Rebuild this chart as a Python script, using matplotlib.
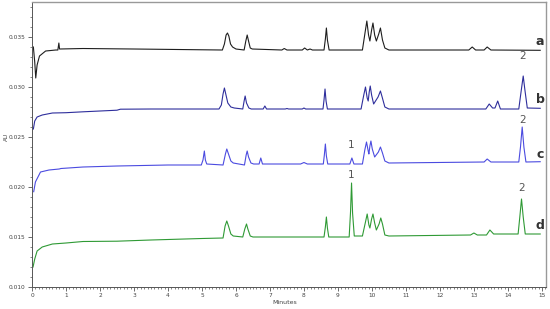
import matplotlib
matplotlib.use('Agg')
import matplotlib.pyplot as plt
from matplotlib.ticker import MultipleLocator, FormatStrFormatter

# chromatogram vertices (minutes, AU)
A_T = [0.04, 0.08, 0.11, 0.15, 0.22, 0.40, 0.70, 0.76, 0.79, 0.81, 1.5, 3.0,
       5.60, 5.66, 5.71, 5.75, 5.79, 5.84, 5.90, 6.00, 6.24, 6.29, 6.33, 6.37, 6.42, 6.48,
       7.35, 7.42, 7.50, 7.95, 8.02, 8.10, 8.18, 8.25,
       8.59, 8.63, 8.66, 8.69, 8.74,
       9.72, 9.80, 9.85, 9.90, 9.94, 9.99, 10.03, 10.08, 10.13, 10.20, 10.25, 10.31, 10.38, 10.50,
       12.85, 12.95, 13.05, 13.30, 13.39, 13.50, 14.95]
A_V = [0.0340, 0.0325, 0.0309, 0.0322, 0.0331, 0.0336, 0.0337, 0.0337, 0.0344, 0.0338, 0.03385, 0.0338,
       0.0337, 0.0343, 0.0352, 0.0354, 0.0351, 0.0343, 0.0340, 0.0338, 0.0337, 0.0346, 0.0352, 0.0346, 0.0339, 0.0338,
       0.0337, 0.03385, 0.0337, 0.0337, 0.0339, 0.0337, 0.0338, 0.0337,
       0.0337, 0.0348, 0.0359, 0.0347, 0.0337,
       0.0337, 0.0355, 0.0366, 0.0352, 0.0346, 0.0357, 0.0364, 0.0352, 0.0346, 0.0353, 0.0359, 0.0347, 0.0339, 0.0337,
       0.0337, 0.0340, 0.0337, 0.0337, 0.0340, 0.0337, 0.03367]

B_T = [0.04, 0.08, 0.15, 0.30, 0.60, 1.0, 1.5, 2.5, 2.6, 3.5, 5.50,
       5.57, 5.62, 5.66, 5.70, 5.76, 5.85, 5.95, 6.20, 6.24, 6.27, 6.31, 6.38, 6.45, 6.80, 6.85, 6.90,
       7.45, 7.50, 7.55, 7.95, 8.00, 8.05,
       8.56, 8.59, 8.62, 8.65, 8.69,
       9.68, 9.76, 9.81, 9.86, 9.89, 9.92, 9.95, 9.99, 10.05, 10.18, 10.25, 10.30, 10.38, 10.50,
       13.35, 13.45, 13.55, 13.62, 13.70, 13.78, 14.32, 14.39, 14.45, 14.50, 14.57, 14.95]
B_V = [0.0258, 0.0266, 0.0270, 0.0272, 0.0274, 0.02743, 0.02752, 0.02768, 0.02778, 0.0278, 0.0278,
       0.0282, 0.0293, 0.0299, 0.0293, 0.0284, 0.0280, 0.0279, 0.0278, 0.0286, 0.0291, 0.0284, 0.0279, 0.0278, 0.0278, 0.0281, 0.0278,
       0.0278, 0.02785, 0.0278, 0.0278, 0.0279, 0.0278,
       0.0278, 0.0287, 0.0298, 0.0286, 0.0278,
       0.0278, 0.0292, 0.0300, 0.0289, 0.0286, 0.0295, 0.0301, 0.0292, 0.0283, 0.0290, 0.0296, 0.0290, 0.0280, 0.0278,
       0.0278, 0.0283, 0.0279, 0.0279, 0.0286, 0.0278, 0.0278, 0.0296, 0.0311, 0.0297, 0.0279, 0.02787]

C_T = [0.05, 0.10, 0.25, 0.50, 0.80, 0.85, 1.5, 2.5, 4.0, 4.98,
       5.03, 5.07, 5.10, 5.14, 5.62, 5.69, 5.73, 5.78, 5.85, 5.92, 6.25, 6.30, 6.33, 6.37, 6.44, 6.52,
       6.68, 6.73, 6.78, 7.90, 8.00, 8.10,
       8.57, 8.60, 8.63, 8.66, 8.70, 9.35, 9.41, 9.47,
       9.72, 9.79, 9.84, 9.89, 9.91, 9.94, 9.97, 10.01, 10.08, 10.19, 10.25, 10.31, 10.38, 10.50,
       13.30, 13.39, 13.50, 14.32, 14.37, 14.42, 14.47, 14.53, 14.95]
C_V = [0.01953, 0.0205, 0.0215, 0.0217, 0.0218, 0.02185, 0.0220, 0.0221, 0.0222, 0.0222,
       0.0227, 0.0236, 0.0227, 0.0223, 0.0222, 0.0233, 0.0238, 0.0233, 0.0226, 0.0224, 0.0222, 0.0232, 0.0236, 0.0230, 0.0224, 0.0223,
       0.0223, 0.0229, 0.0223, 0.0223, 0.02245, 0.0223,
       0.0223, 0.0232, 0.0243, 0.0231, 0.0223, 0.0223, 0.0229, 0.0223,
       0.0223, 0.0237, 0.0245, 0.0236, 0.0233, 0.0241, 0.0246, 0.0238, 0.0230, 0.0235, 0.0240, 0.0234, 0.0226, 0.0224,
       0.0225, 0.0228, 0.0225, 0.0225, 0.0240, 0.0260, 0.0240, 0.0225, 0.02253]

D_T = [0.03, 0.08, 0.15, 0.30, 0.60, 1.0, 1.5, 2.5, 3.5, 5.0, 5.62,
       5.68, 5.73, 5.78, 5.85, 5.92, 6.20, 6.26, 6.31, 6.35, 6.42, 6.50,
       8.59, 8.63, 8.66, 8.69, 8.73, 9.33, 9.37, 9.40, 9.43, 9.48,
       9.72, 9.81, 9.86, 9.91, 9.94, 9.99, 10.03, 10.08, 10.13, 10.21, 10.26, 10.31, 10.38, 10.50,
       12.90, 13.00, 13.10, 13.37, 13.47, 13.58, 14.30, 14.35, 14.40, 14.45, 14.51, 14.95]
D_V = [0.0120, 0.0128, 0.0136, 0.0140, 0.0143, 0.0144, 0.01455, 0.01458, 0.0147, 0.01485, 0.0149,
       0.0161, 0.0166, 0.0161, 0.0153, 0.0151, 0.0150, 0.0158, 0.0163, 0.0158, 0.0151, 0.0150,
       0.0150, 0.0160, 0.0170, 0.0159, 0.0150, 0.0150, 0.0175, 0.0204, 0.0174, 0.0151,
       0.0151, 0.0165, 0.0173, 0.0162, 0.0159, 0.0168, 0.0173, 0.0164, 0.0157, 0.0163, 0.0169, 0.0163, 0.0152, 0.0151,
       0.0152, 0.0154, 0.0152, 0.0152, 0.0157, 0.0153, 0.0153, 0.0170, 0.0188, 0.0170, 0.0153, 0.0153]

TRACES = [
    (A_T, A_V, '#1e1e1e', 'a', 0.0346),
    (B_T, B_V, '#2e2e9c', 'b', 0.0288),
    (C_T, C_V, '#4b4be0', 'c', 0.0233),
    (D_T, D_V, '#2f9a35', 'd', 0.0162),
]

# peak numbers: (minutes, AU, text)
PEAK_LABELS = [
    (14.44, 0.0331, '2'),
    (14.42, 0.0267, '2'),
    (9.38, 0.0242, '1'),
    (9.40, 0.0212, '1'),
    (14.40, 0.0199, '2'),
]

fig = plt.figure(figsize=(5.5, 3.09), dpi=100)
ax = fig.add_axes([0.0582, 0.0712, 0.9345, 0.9223])

for t, v, color, name, ylab in TRACES:
    ax.plot(t, v, '-', color=color, linewidth=0.8)
    ax.text(14.95, ylab, name, ha='center', va='center',
            fontsize=9, fontweight='bold', color='#333333')

for t, v, s in PEAK_LABELS:
    ax.text(t, v, s, ha='center', va='center', fontsize=7.5, color='#555555')

ax.set_xlim(0, 15.12)
ax.set_ylim(0.010, 0.0385)
ax.xaxis.set_major_locator(MultipleLocator(1))
ax.xaxis.set_minor_locator(MultipleLocator(0.1))
ax.yaxis.set_major_locator(MultipleLocator(0.005))
ax.yaxis.set_minor_locator(MultipleLocator(0.001))
ax.yaxis.set_major_formatter(FormatStrFormatter('%.3f'))
ax.tick_params(which='major', length=3, width=0.6, labelsize=4.2,
               labelcolor='#444444', color='#555555', pad=1.5)
ax.tick_params(which='minor', length=1.5, width=0.5, color='#555555')

for side in ['left', 'bottom']:
    ax.spines[side].set_color('#555555')
    ax.spines[side].set_linewidth(0.7)
for side in ['top', 'right']:
    ax.spines[side].set_color('#999999')
    ax.spines[side].set_linewidth(1.0)

fig.text(285 / 550, 1 - 303 / 309, 'Minutes', ha='center', va='center',
         fontsize=4.5, color='#444444')
fig.text(6 / 550, 1 - 137 / 309, 'AU', ha='center', va='center',
         fontsize=4.2, color='#444444', rotation=90)

plt.savefig('out.png', dpi=100)
